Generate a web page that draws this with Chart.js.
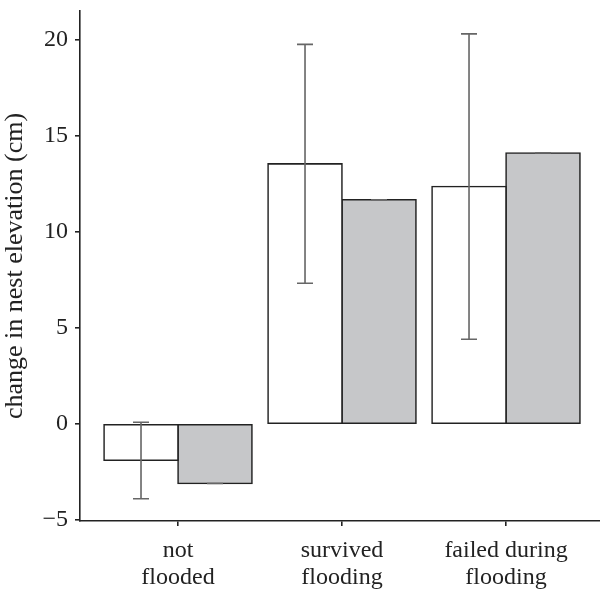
<!DOCTYPE html>
<html>
<head>
<meta charset="utf-8">
<script src="https://cdn.jsdelivr.net/npm/chart.js@4.4.1/dist/chart.umd.min.js"></script>
<style>
  html, body { margin: 0; padding: 0; background: #ffffff; }
  #wrap { width: 600px; height: 590px; }
</style>
</head>
<body>
<div id="wrap"><canvas id="c" width="600" height="590"></canvas></div>
<script>
// ---- data ----
const categories = [["not", "flooded"], ["survived", "flooding"], ["failed during", "flooding"]];
const whiteValues = [-1.89, 13.54, 12.36];
const whiteErrLow = [-3.89, 7.33, 4.41];
const whiteErrHigh = [0.09, 19.76, 20.31];
const greyValues = [-3.10, 11.67, 14.11];
const greyErrLow = [-3.10, 11.67, 14.11];
const greyErrHigh = [-3.10, 11.67, 14.11];
const yTicks = [-5, 0, 5, 10, 15, 20];
const yTitle = "change in nest elevation (cm)";

const ink = '#222222';
const fontFamily = "'Liberation Serif', 'Times New Roman', serif";

const toPoints = vals => vals.map((v, i) => ({ x: i, y: v }));

const errorBarPlugin = {
  id: 'errorBars',
  afterDatasetsDraw(chart) {
    const ctx = chart.ctx;
    const yScale = chart.scales.y;
    chart.data.datasets.forEach((ds, di) => {
      const meta = chart.getDatasetMeta(di);
      if (!ds.errLow) return;
      ctx.save();
      ctx.strokeStyle = '#666666';
      ctx.lineWidth = 1.6;
      meta.data.forEach((bar, i) => {
        const x = bar.x;
        const yl = yScale.getPixelForValue(ds.errLow[i]);
        const yh = yScale.getPixelForValue(ds.errHigh[i]);
        const half = 8;
        ctx.beginPath();
        ctx.moveTo(x, yl); ctx.lineTo(x, yh);
        ctx.moveTo(x - half, yl); ctx.lineTo(x + half, yl);
        ctx.moveTo(x - half, yh); ctx.lineTo(x + half, yh);
        ctx.stroke();
      });
      ctx.restore();
    });
  }
};

new Chart(document.getElementById('c'), {
  type: 'bar',
  data: {
    datasets: [
      {
        data: toPoints(whiteValues),
        errLow: whiteErrLow, errHigh: whiteErrHigh,
        backgroundColor: '#ffffff', borderColor: ink, borderWidth: 1.6, borderSkipped: false,
        inflateAmount: 0.8
      },
      {
        data: toPoints(greyValues),
        errLow: greyErrLow, errHigh: greyErrHigh,
        backgroundColor: '#c6c7c9', borderColor: ink, borderWidth: 1.6, borderSkipped: false,
        inflateAmount: 0.8
      }
    ]
  },
  options: {
    responsive: false,
    animation: false,
    devicePixelRatio: 1,
    barThickness: 74,
    layout: { padding: { top: 11, right: 0, left: 0, bottom: 0 } },
    plugins: { legend: { display: false }, tooltip: { enabled: false } },
    scales: {
      x: {
        type: 'linear',
        offset: false,
        min: -0.5976,
        max: 2.573,
        afterBuildTicks: s => { s.ticks = categories.map((c, i) => ({ value: i })); },
        afterFit: s => { s.height = 69; s.paddingLeft = 0; s.paddingRight = 0; },
        ticks: {
          callback: v => categories[v],
          color: ink,
          padding: 11,
          maxRotation: 0,
          autoSkip: false,
          font: { family: fontFamily, size: 24, lineHeight: 1.13 }
        },
        grid: { drawOnChartArea: false, drawTicks: true, tickLength: 5, color: ink, lineWidth: 1.6, offset: false },
        border: { display: true, color: ink, width: 1.6 }
      },
      y: {
        min: -5.05,
        max: 21.5,
        afterBuildTicks: s => { s.ticks = yTicks.map(v => ({ value: v })); },
        afterFit: s => { s.width = 80; s.paddingTop = 0; s.paddingBottom = 0; },
        ticks: {
          color: ink,
          padding: 7,
          font: { family: fontFamily, size: 24 },
          callback: v => (v < 0 ? '\u2212' + Math.abs(v) : String(v))
        },
        grid: { drawOnChartArea: false, drawTicks: true, tickLength: 5, color: ink, lineWidth: 1.6 },
        border: { display: true, color: ink, width: 1.6 },
        title: {
          display: true,
          text: yTitle,
          color: ink,
          font: { family: fontFamily, size: 26 },
          padding: { top: 0, bottom: 0 }
        }
      }
    }
  },
  plugins: [errorBarPlugin]
});
</script>
</body>
</html>
